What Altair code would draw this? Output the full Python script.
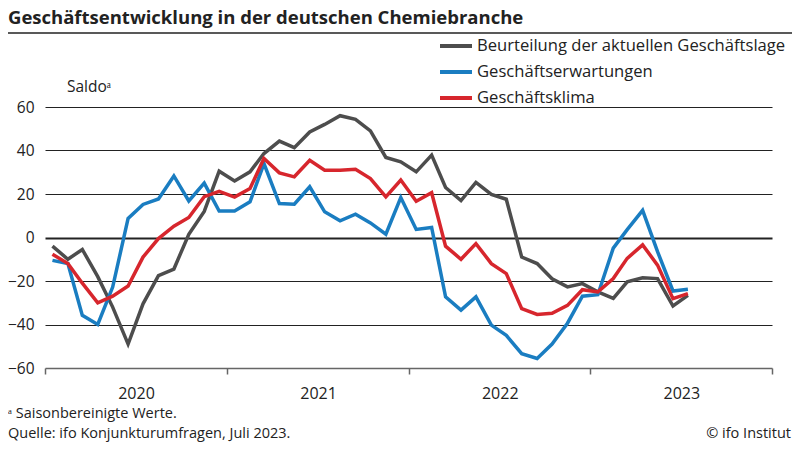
import altair as alt
import pandas as pd

FONT = "Open Sans"

# Monthly data Jan 2020 - Jul 2023 (plotted at mid-month)
months = pd.date_range("2020-01-01", periods=43, freq="MS") + pd.Timedelta(days=15)
dates = [d.strftime("%Y-%m-%d") for d in months]

lage = [-4, -10, -5.5, -18, -32, -49, -30.5, -17.5, -14.5, 1.5, 12, 30.5,
        26, 30.2, 38.6, 44.3, 41.3, 48.5, 52, 56, 54.3, 49, 36.8, 34.8,
        30.2, 37.9, 23, 17, 25.3, 19.8, 17.6, -9, -12, -19, -22.7, -21.2,
        -25, -28, -20.4, -18.5, -18.9, -31.5, -26.6]
erwartungen = [-10.5, -12, -35.8, -40, -22.8, 8.8, 15.2, 17.7, 28.3, 16.8, 25, 12.2,
               12.2, 16.4, 34, 15.6, 15.3, 23.3, 11.8, 7.7, 10.7, 6.7, 1.5, 18.4,
               3.7, 4.6, -27.3, -33.4, -27.3, -40.3, -45, -53.4, -55.6, -49, -39.4, -27,
               -26.3, -4.9, 3.6, 12.5, -6.5, -24.6, -23.8]
klima = [-7.7, -12, -21, -30, -27, -22.3, -9, -0.5, 5.2, 9.2, 18.8, 21.2,
         18.6, 22.5, 36.3, 29.7, 27.9, 35.5, 30.9, 30.9, 31.4, 27.1, 18.7, 26.4,
         16.7, 20.6, -4, -10, -2.8, -12, -16.6, -32.7, -35.4, -34.8, -31.2, -24,
         -25, -18.9, -9.6, -3.4, -12.7, -28.1, -25.8]

series_names = ["Beurteilung der aktuellen Geschäftslage", "Geschäftserwartungen", "Geschäftsklima"]
series_colors = ["#4d4d4d", "#1a7dc1", "#d7262d"]

y_ticks = [-60, -40, -20, 0, 20, 40, 60]
years = [2020, 2021, 2022, 2023, 2024]

title_text = "Geschäftsentwicklung in der deutschen Chemiebranche"
unit_text = "Saldoᵃ"
note_text = "ᵃ Saisonbereinigte Werte."
source_text = "Quelle: ifo Konjunkturumfragen, Juli 2023."
copyright_text = "© ifo Institut"

rows = []
for k, (name, vals) in enumerate(zip(series_names, [lage, erwartungen, klima])):
    for d, v in zip(dates, vals):
        rows.append({"Datum": d, "Saldo": v, "Reihe": name, "k": k})
df = pd.DataFrame(rows)

year_ticks = [alt.DateTime(year=y, month=1, date=1, utc=True) for y in years]

x_enc = alt.X(
    "Datum:T",
    scale=alt.Scale(type="utc", domain=[year_ticks[0], year_ticks[-1]]),
    axis=alt.Axis(
        values=year_ticks, title=None, grid=False,
        labelExpr="utcyear(datum.value) >= 2024 ? '' : utcFormat(datum.value, '%Y')",
        labelOffset=91, labelFlush=False, labelOverlap=False,
        labelFontSize=16, labelFont=FONT, labelColor="#222", labelPadding=11,
        domainColor="#666", domainWidth=1.5, tickColor="#666", tickWidth=1.5, tickSize=6,
    ),
)
y_enc = alt.Y(
    "Saldo:Q",
    scale=alt.Scale(domain=[-60, 60], nice=False),
    axis=alt.Axis(
        values=y_ticks, title=None, domain=False, ticks=False,
        labelFontSize=15.5, labelFont=FONT, labelColor="#222", labelPadding=11,
        grid=True, gridColor="#222",
        gridOpacity={"condition": {"test": "datum.value === -60", "value": 0}, "value": 1},
        gridWidth={"condition": {"test": "datum.value === 0", "value": 1.8}, "value": 1},
    ),
)

lines = alt.Chart(df).mark_line(strokeWidth=3.5).encode(
    x=x_enc,
    y=y_enc,
    color=alt.Color(
        "Reihe:N",
        sort=series_names,
        scale=alt.Scale(domain=series_names, range=series_colors),
        legend=alt.Legend(
            title=None, orient="none", legendX=401, legendY=-71,
            symbolType="M-2,0H2", symbolStrokeWidth=4, symbolSize=256,
            labelFontSize=16.6, labelFont=FONT, labelColor="#222",
            labelOffset=11, labelLimit=500, rowPadding=7,
        ),
    ),
    order="k:Q",
)


def text_layer(txt, x, y, size=15, align="left", weight="normal"):
    return alt.Chart(pd.DataFrame({"t": [txt]})).mark_text(
        align=align, baseline="alphabetic", fontSize=size, font=FONT,
        fontWeight=weight, color="#222",
    ).encode(text="t:N", x=alt.value(x), y=alt.value(y))


sep = alt.Chart(pd.DataFrame({"a": [0]})).mark_rule(color="#222", strokeWidth=1.5).encode(
    x=alt.value(-37), x2=alt.value(747), y=alt.value(-74)
)

chart = alt.layer(
    lines,
    sep,
    text_layer(title_text, -37, -83, size=18.5, weight="bold"),
    text_layer(unit_text, 22, -15, size=15.5),
    text_layer(note_text, -37, 311, size=14.5),
    text_layer(source_text, -37, 331, size=14.5),
    text_layer(copyright_text, 746, 331, size=14.5, align="right"),
).properties(
    width=727, height=261,
    autosize=alt.AutoSizeParams(type="none"),
    padding={"left": 37, "top": 99, "right": 20, "bottom": 74},
).configure_view(stroke=None)

chart.save("out.html", embed_options={"renderer": "svg", "actions": False})
